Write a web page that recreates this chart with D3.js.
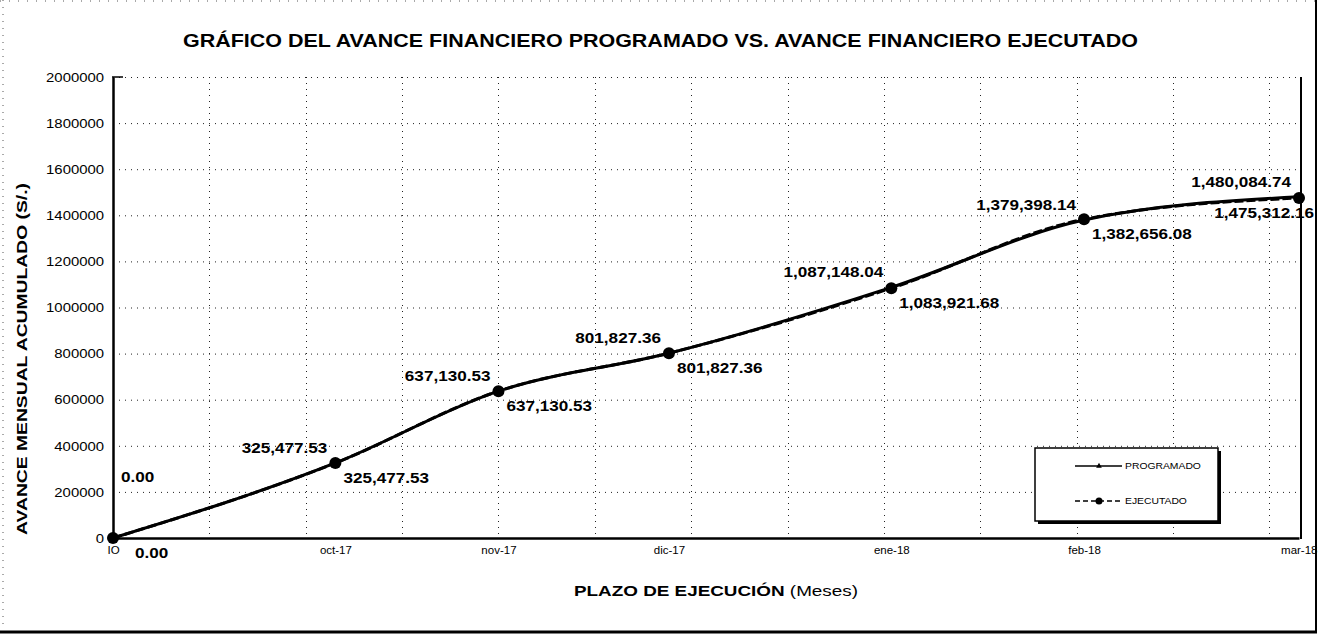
<!DOCTYPE html>
<html><head><meta charset="utf-8">
<script src="https://cdn.jsdelivr.net/npm/d3@7"></script>
<style>
body{margin:0;background:#fff}
svg{display:block}
text{font-family:"Liberation Sans",Arial,sans-serif;fill:#000}
</style>
</head><body>
<svg id="c" width="1319" height="641"></svg>
<script>
// ---- data ----
const dates = ["2017-10-01","2017-10-31","2017-11-22","2017-12-15","2018-01-14","2018-02-09","2018-03-10"];
const monthLabels = ["IO","oct-17","nov-17","dic-17","ene-18","feb-18","mar-18"];
const programado = [0, 325477.53, 637130.53, 801827.36, 1087148.04, 1379398.14, 1480084.74];
const ejecutado  = [0, 325477.53, 637130.53, 801827.36, 1083921.68, 1382656.08, 1475312.16];
const yTicks = [0,200000,400000,600000,800000,1000000,1200000,1400000,1600000,1800000,2000000];
const seriesNames = ["PROGRAMADO","EJECUTADO"];
const titleText = "GRÁFICO DEL AVANCE FINANCIERO PROGRAMADO VS. AVANCE FINANCIERO EJECUTADO";
const yTitleText = "AVANCE MENSUAL ACUMULADO  (S/.)";
const xTitleMain = "PLAZO DE EJECUCIÓN";
const xTitleUnit = "(Meses)";

// ---- layout ----
const W = 1319, H = 641;
const L = 113, R = 1299, T = 77, B = 538;
const svg = d3.select("#c");
const parse = d3.timeParse("%Y-%m-%d");
const dd = dates.map(parse);
const x = d3.scaleTime().domain([dd[0], dd[dd.length-1]]).range([L, R]);
const y = d3.scaleLinear().domain([0, 2000000]).range([B, T]);

function stretch(sel, f){
  sel.each(function(){
    const w = this.getComputedTextLength();
    d3.select(this).attr("textLength", w*f).attr("lengthAdjust","spacingAndGlyphs");
  });
}

// outer frame
svg.append("line").attr("x1",3).attr("x2",3).attr("y1",0).attr("y2",630)
  .attr("stroke","#555").attr("stroke-width",1).attr("stroke-dasharray","1,6");
svg.append("line").attr("x1",0).attr("x2",1316).attr("y1",1).attr("y2",1)
  .attr("stroke","#555").attr("stroke-width",1).attr("stroke-dasharray","1,8");
svg.append("line").attr("x1",0).attr("x2",1317).attr("y1",632).attr("y2",632)
  .attr("stroke","#000").attr("stroke-width",3);
svg.append("line").attr("x1",1316).attr("x2",1316).attr("y1",0).attr("y2",633)
  .attr("stroke","#000").attr("stroke-width",2);

// title
svg.append("text").attr("x",(183+1138)/2).attr("y",47).attr("text-anchor","middle")
  .attr("font-size",18).attr("font-weight","bold").text(titleText)
  .attr("textLength",955).attr("lengthAdjust","spacingAndGlyphs");

// gridlines horizontal
const grid = svg.append("g").attr("stroke","#222").attr("stroke-width",1).attr("stroke-dasharray","1,5");
grid.selectAll(".h").data(yTicks.filter(v=>v>0)).join("line")
  .attr("x1",L).attr("x2",R+2).attr("y1",d=>y(d)+0.5).attr("y2",d=>y(d)+0.5);
// gridlines vertical (date axis major unit)
const vDates = d3.timeDay.range(d3.timeDay.offset(dd[0],13), dd[dd.length-1], 13);
grid.selectAll(".v").data(vDates).join("line")
  .attr("x1",d=>Math.round(x(d))+0.5).attr("x2",d=>Math.round(x(d))+0.5).attr("y1",T).attr("y2",B);

// plot border
svg.append("line").attr("x1",R+2).attr("x2",R+2).attr("y1",T).attr("y2",B+1).attr("stroke","#000").attr("stroke-width",2);
svg.append("line").attr("x1",L-1).attr("x2",L+10).attr("y1",T).attr("y2",T).attr("stroke","#000").attr("stroke-width",1.5);

// axes
const yAxis = d3.axisLeft(y).tickValues(yTicks).tickFormat(d3.format("d")).tickSize(0).tickPadding(9);
const gy = svg.append("g").attr("transform",`translate(${L},0)`).call(yAxis);
gy.select(".domain").attr("stroke","#000").attr("stroke-width",2.5);
gy.selectAll("text").attr("font-size",12).attr("font-family","'Liberation Sans',Arial,sans-serif").attr("dy","0.35em");
stretch(gy.selectAll("text"), 1.24);

const xAxis = d3.axisBottom(x).tickValues(dd).tickFormat((d,i)=>monthLabels[i]).tickSize(0).tickPadding(8);
const gx = svg.append("g").attr("transform",`translate(0,${B})`).call(xAxis);
gx.select(".domain").attr("stroke","#000").attr("stroke-width",2.5);
gx.selectAll("text").attr("font-size",11.5).attr("font-family","'Liberation Sans',Arial,sans-serif");
gx.selectAll(".tick").filter((d,i)=>i===0).select("text").attr("text-anchor","start").attr("dx",-6);
gx.selectAll(".tick").filter((d,i)=>i===dd.length-1).select("text").attr("text-anchor","end").attr("dx",18);

// axis titles
svg.append("text").attr("transform",`translate(27,${(183+535)/2}) rotate(-90)`).attr("text-anchor","middle")
  .attr("font-size",15).attr("font-weight","bold").text(yTitleText)
  .attr("textLength",352).attr("lengthAdjust","spacingAndGlyphs");
const xt = svg.append("text").attr("x",574).attr("y",596).attr("font-size",14).attr("font-weight","bold");
xt.append("tspan").text(xTitleMain + "  ");
xt.append("tspan").attr("font-weight","normal").text(xTitleUnit);
xt.attr("textLength",284).attr("lengthAdjust","spacingAndGlyphs");

// lines
const curve = d3.curveMonotoneX;
const lineP = d3.line().x((d,i)=>x(dd[i])).y(d=>y(d)).curve(curve);
svg.append("path").datum(programado).attr("d",lineP).attr("fill","none").attr("stroke","#000").attr("stroke-width",3);
svg.append("path").datum(ejecutado).attr("d",lineP).attr("fill","none").attr("stroke","#000").attr("stroke-width",3).attr("stroke-dasharray","9,3");
svg.selectAll(".pm").data(ejecutado).join("circle")
  .attr("cx",(d,i)=>x(dd[i])).attr("cy",d=>y(d)).attr("r",6).attr("fill","#000");

// data labels
const fmt = d3.format(",.2f");
const lab = svg.append("g").attr("font-size",15).attr("font-weight","bold");
lab.selectAll(".lp").data(programado).join("text")
  .text(d=>fmt(d))
  .each(function(d,i){
    const t = d3.select(this);
    const w = this.getComputedTextLength()*1.14;
    t.attr("textLength",w).attr("lengthAdjust","spacingAndGlyphs");
    let xs = x(dd[i]) - 8 - w;
    xs = Math.max(xs, L+8);
    let yb = y(d) - 10;
    if (xs === L+8) yb = y(d) - 56;
    t.attr("x",xs).attr("y",yb);
  });
lab.selectAll(".le").data(ejecutado).join("text")
  .text(d=>fmt(d))
  .each(function(d,i){
    const t = d3.select(this);
    const w = this.getComputedTextLength()*1.14;
    t.attr("textLength",w).attr("lengthAdjust","spacingAndGlyphs");
    let xs = x(dd[i]) + 8;
    xs = Math.min(xs, 1314 - w);
    if (i===0) xs = x(dd[i]) + 22;
    t.attr("x",xs).attr("y",y(d)+20);
  });

// legend
const lg = svg.append("g");
lg.append("rect").attr("x",1038).attr("y",451).attr("width",183).attr("height",73).attr("fill","#000");
lg.append("rect").attr("x",1035).attr("y",448).attr("width",183).attr("height",73).attr("fill","#fff").attr("stroke","#000").attr("stroke-width",1.5);
lg.append("line").attr("x1",1075).attr("x2",1122).attr("y1",466).attr("y2",466).attr("stroke","#000").attr("stroke-width",1.5);
lg.append("path").attr("d",d3.symbol(d3.symbolTriangle,14)()).attr("transform","translate(1099,466)").attr("fill","#000");
lg.append("line").attr("x1",1075).attr("x2",1122).attr("y1",501).attr("y2",501).attr("stroke","#000").attr("stroke-width",1.5).attr("stroke-dasharray","5,3");
lg.append("circle").attr("cx",1099).attr("cy",501).attr("r",3.5).attr("fill","#000");
lg.selectAll(".lt").data(seriesNames).join("text")
  .attr("x",1125).attr("y",(d,i)=>469+i*35).attr("font-size",9).text(d=>d)
  .each(function(){ const w=this.getComputedTextLength(); d3.select(this).attr("textLength",w*1.15).attr("lengthAdjust","spacingAndGlyphs"); });
</script>
</body></html>
